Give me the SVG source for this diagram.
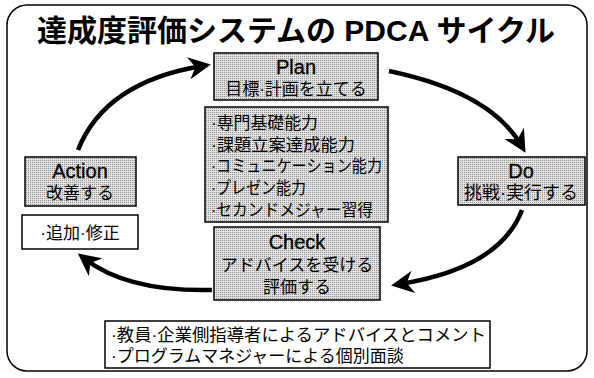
<svg xmlns="http://www.w3.org/2000/svg" width="594" height="378" viewBox="0 0 594 378">
<defs>
<pattern id="ht" width="2" height="2" patternUnits="userSpaceOnUse">
<rect width="2" height="2" fill="#e2e2e2"/>
<rect width="1" height="1" fill="#8f8f8f"/>
</pattern>
<marker id="ah" viewBox="0 0 10 10" refX="6" refY="5" markerWidth="5" markerHeight="5" orient="auto" markerUnits="strokeWidth">
<path d="M0,0 L10,5 L0,10 L3,5 z" fill="#000"/>
</marker>
<style>
.t{font-family:"Liberation Sans","Noto Sans CJK JP",sans-serif;fill:#000;}
.c{text-anchor:middle;font-size:17px;}
.e{text-anchor:middle;font-size:20px;stroke:#000;stroke-width:0.3;}
.l{font-size:17px;}
.box{fill:url(#ht);stroke:#000;stroke-width:1.5;}
.wbox{fill:#fff;stroke:#000;stroke-width:1.5;}
.arr{fill:none;stroke:#000;stroke-width:4.5;marker-end:url(#ah);}
</style>
</defs>
<rect x="0" y="0" width="594" height="378" fill="#fff"/>
<rect id="frame" x="7" y="5" width="580" height="366" rx="20" fill="none" stroke="#000" stroke-width="1.5"/>
<text id="title" class="t" x="296" y="41" text-anchor="middle" font-size="30" font-weight="bold">達成度評価システムの PDCA サイクル</text>
<g id="connectors">
<path class="arr" d="M78,150 Q105,82 202,66"/>
<path class="arr" d="M389,71 Q490,92 521,145"/>
<path class="arr" d="M522,210 Q500,268 400,284"/>
<path class="arr" d="M212,290 Q128,292 85,259"/>
</g>
<g id="plan">
<rect class="box" x="214" y="53" width="164" height="47"/>
<text class="t e" x="296" y="74">Plan</text>
<text class="t c" x="296" y="95">目標·計画を立てる</text>
</g>
<g id="skills">
<rect class="box" x="205" y="107" width="183" height="115"/>
<text class="t l" x="211" y="129" textLength="107" lengthAdjust="spacingAndGlyphs">·専門基礎能力</text>
<text class="t l" x="211" y="151" textLength="144" lengthAdjust="spacingAndGlyphs">·課題立案達成能力</text>
<text class="t l" x="211" y="172" textLength="171" lengthAdjust="spacingAndGlyphs">·コミュニケーション能力</text>
<text class="t l" x="211" y="194" textLength="95" lengthAdjust="spacingAndGlyphs">·プレゼン能力</text>
<text class="t l" x="211" y="216" textLength="162" lengthAdjust="spacingAndGlyphs">·セカンドメジャー習得</text>
</g>
<g id="do">
<rect class="box" x="458" y="157" width="127" height="48"/>
<text class="t e" x="521" y="178">Do</text>
<text class="t c" x="521" y="199" font-size="18" style="font-size:18px">挑戦·実行する</text>
</g>
<g id="check">
<rect class="box" x="214" y="227" width="166" height="73"/>
<text class="t e" x="297" y="249">Check</text>
<text class="t c" x="297" y="271">アドバイスを受ける</text>
<text class="t c" x="297" y="293">評価する</text>
</g>
<g id="action">
<rect class="box" x="25" y="157" width="111" height="49"/>
<text class="t e" x="80" y="178">Action</text>
<text class="t c" x="80" y="199">改善する</text>
</g>
<g id="action-note">
<rect class="wbox" x="22" y="215" width="116" height="34"/>
<text class="t c" x="80" y="239">·追加·修正</text>
</g>
<g id="check-note">
<rect class="wbox" x="105" y="321" width="385" height="47"/>
<text class="t l" x="111" y="341" textLength="375" lengthAdjust="spacingAndGlyphs">·教員·企業側指導者によるアドバイスとコメント</text>
<text class="t l" x="111" y="362">·プログラムマネジャーによる個別面談</text>
</g>
</svg>
